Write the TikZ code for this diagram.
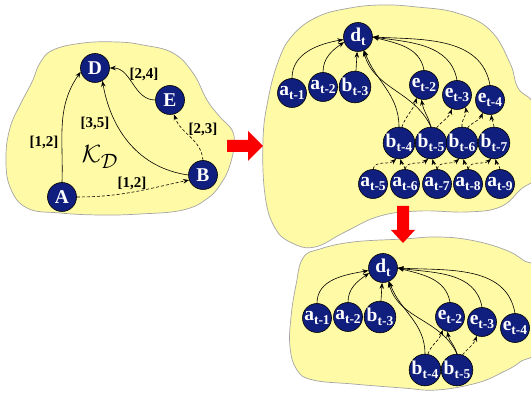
\documentclass[tikz,border=0pt]{standalone}
\usepackage{fontspec}
\setmainfont{Liberation Serif}
\usetikzlibrary{arrows.meta}
\definecolor{blobyellow}{RGB}{255,250,165}
\definecolor{blobedge}{RGB}{165,165,165}
\definecolor{varblue}{RGB}{16,30,125}
\definecolor{arrowred}{RGB}{250,0,0}
\newcommand{\vsub}[2]{#1\raisebox{-0.4ex}{\fontsize{13.5}{13.5}\selectfont #2}}

\begin{document}
\begin{tikzpicture}[x=1pt, y=1pt,
    blob/.style={fill=blobyellow, draw=blobedge, line width=0.7pt},
    var/.style={circle, draw=black, line width=0.6pt, fill=varblue, text=white, inner sep=0pt, minimum size=29pt, font=\fontsize{19.5}{19.5}\selectfont\bfseries},
    link/.style={-{Stealth[length=6pt, width=4.5pt]}, line width=0.6pt},
    dlink/.style={link, dash pattern=on 3pt off 2pt},
    interval/.style={font=\fontsize{15}{15}\selectfont\bfseries},
    bigarrow/.style={fill=arrowred}
]
\useasboundingbox (0,0) rectangle (531,-414);

% Blobs
\draw[blob] plot[smooth cycle, tension=0.7] coordinates {(40,-63) (53,-50) (83,-43) (117,-42) (143,-45) (173,-53) (193,-73) (207,-100) (220,-117) (232,-130) (234,-145) (230,-165) (222,-182) (208,-198) (183,-210) (140,-214) (100,-215) (60,-213) (27,-208) (10,-187) (6,-157) (10,-128) (20,-105) (32,-82)};
\draw[blob] plot[smooth cycle, tension=0.7] coordinates {(263,-140) (268,-100) (278,-62) (292,-36) (317,-17) (350,-8) (383,-5) (417,-7) (457,-13) (490,-30) (510,-63) (518,-88) (536,-110) (538,-170) (520,-190) (500,-207) (467,-212) (420,-211) (380,-216) (345,-232) (315,-247) (292,-243) (275,-228) (265,-195)};
\draw[blob] plot[smooth cycle, tension=0.7] coordinates {(303,-258) (320,-249) (353,-242) (403,-239) (437,-237) (470,-240) (503,-249) (523,-260) (538,-275) (538,-345) (520,-362) (503,-372) (477,-383) (437,-390) (403,-388) (353,-384) (313,-380) (297,-370) (290,-347) (291,-317) (296,-285)};

% Red arrows
\fill[bigarrow] (227,-140) -- (248,-140) -- (248,-131) -- (263,-146) -- (248,-161) -- (248,-152) -- (227,-152) -- cycle;
\fill[bigarrow] (397,-206) -- (409,-206) -- (409,-230) -- (415,-230) -- (403,-243) -- (391,-230) -- (397,-230) -- cycle;

% Left: temporal network
\node[var] (D) at (95,-68) {D};
\node[var] (E) at (170,-100) {E};
\node[var] (B) at (203,-175) {B};
\node[var] (A) at (62,-197) {A};

\draw[link] (A.north) to[out=88, in=235] (D.195);
\draw[link] (B.west) to[out=172, in=-80] (D.-60);
\draw[link] (E.west) to[out=180, in=0] (D.east);
\draw[dlink] (B.north) to[out=95, in=-70] (E.-75);
\draw[dlink] (A.east) to[out=0, in=192] (B.200);

\node[interval] (lAD) at (44,-142) {[1,2]};
\node[interval] (lBD) at (95,-123) {[3,5]};
\node[interval] (lED) at (144,-74) {[2,4]};
\node[interval] (lBE) at (203,-129) {[2,3]};
\node[interval] (lAB) at (132,-183) {[1,2]};
\node (kd) at (100,-157) {\fontsize{28}{28}\selectfont$\mathcal{K}_{\mathcal{D}}$};

% Top right: unrolled network
\node[var] (s-dt) at (358,-37) {\vsub{d}{t}};
\node[var] (s-a1) at (292,-93) {\vsub{a}{t-1}};
\node[var] (s-a2) at (323,-87) {\vsub{a}{t-2}};
\node[var] (s-b3) at (355,-87) {\vsub{b}{t-3}};
\node[var] (s-e2) at (424,-85) {\vsub{e}{t-2}};
\node[var] (s-e3) at (457,-95) {\vsub{e}{t-3}};
\node[var] (s-e4) at (490,-100) {\vsub{e}{t-4}};
\node[var] (s-b4) at (399,-143) {\vsub{b}{t-4}};
\node[var] (s-b5) at (431,-143) {\vsub{b}{t-5}};
\node[var] (s-b6) at (462,-143) {\vsub{b}{t-6}};
\node[var] (s-b7) at (494,-143) {\vsub{b}{t-7}};
\node[var] (s-a5) at (373,-184) {\vsub{a}{t-5}};
\node[var] (s-a6) at (405,-184) {\vsub{a}{t-6}};
\node[var] (s-a7) at (437,-184) {\vsub{a}{t-7}};
\node[var] (s-a8) at (468,-184) {\vsub{a}{t-8}};
\node[var] (s-a9) at (500,-184) {\vsub{a}{t-9}};

\draw[link] (s-a1.north) to[out=90, in=190] (s-dt.190);
\draw[link] (s-a2.north) to[out=90, in=215] (s-dt.200);
\draw[link] (s-b3) -- (s-dt);
\draw[link] (s-e2.north) to[out=100, in=-15] (s-dt.east);
\draw[link] (s-e3.north) to[out=100, in=-8] (s-dt.east);
\draw[link] (s-e4.north) to[out=100, in=-3] (s-dt.east);
\draw[link] (s-b4.north) to[out=90, in=-70] (s-dt.-65);
\draw[link] (s-b5.north) to[out=115, in=-75] (s-dt.-68);
\draw[link] (s-b5.north) to[out=105, in=-80] (s-e2.-100);
\draw[dlink] (s-b4.80) to[out=70, in=-105] (s-e2.-120);
\draw[dlink] (s-b5.70) to[out=50, in=-110] (s-e3.-110);
\draw[dlink] (s-b6.north) to[out=95, in=-80] (s-e3.-55);
\draw[dlink] (s-b6.70) to[out=50, in=-110] (s-e4.-120);
\draw[dlink] (s-b7.north) to[out=95, in=-85] (s-e4.-85);
\foreach \i/\j in {5/4, 6/5, 7/6, 8/7}
  \draw[dlink] (s-a\i.north) to[out=75, in=-140] (s-b\j.-100);
\foreach \i/\j in {6/4, 7/5, 8/6, 9/7}
  \draw[dlink] (s-a\i.north) to[out=100, in=-75] (s-b\j.-85);

% Bottom right: pruned network
\node[var] (p-dt) at (383,-268) {\vsub{d}{t}};
\node[var] (p-a1) at (317,-318) {\vsub{a}{t-1}};
\node[var] (p-a2) at (348,-317) {\vsub{a}{t-2}};
\node[var] (p-b3) at (380,-317) {\vsub{b}{t-3}};
\node[var] (p-e2) at (450,-317) {\vsub{e}{t-2}};
\node[var] (p-e3) at (482,-322) {\vsub{e}{t-3}};
\node[var] (p-e4) at (515,-328) {\vsub{e}{t-4}};
\node[var] (p-b4) at (425,-370) {\vsub{b}{t-4}};
\node[var] (p-b5) at (457,-370) {\vsub{b}{t-5}};

\draw[link] (p-a1.north) to[out=90, in=190] (p-dt.190);
\draw[link] (p-a2.north) to[out=90, in=215] (p-dt.200);
\draw[link] (p-b3) -- (p-dt);
\draw[link] (p-e2.north) to[out=100, in=-15] (p-dt.east);
\draw[link] (p-e3.north) to[out=100, in=-8] (p-dt.east);
\draw[link] (p-e4.north) to[out=100, in=-3] (p-dt.east);
\draw[link] (p-b4.north) to[out=90, in=-70] (p-dt.-65);
\draw[link] (p-b5.north) to[out=115, in=-75] (p-dt.-68);
\draw[link] (p-b5.north) to[out=105, in=-80] (p-e2.-100);
\draw[dlink] (p-b4.80) to[out=70, in=-105] (p-e2.-120);
\draw[dlink] (p-b5.70) to[out=50, in=-110] (p-e3.-110);

\end{tikzpicture}
\end{document}
